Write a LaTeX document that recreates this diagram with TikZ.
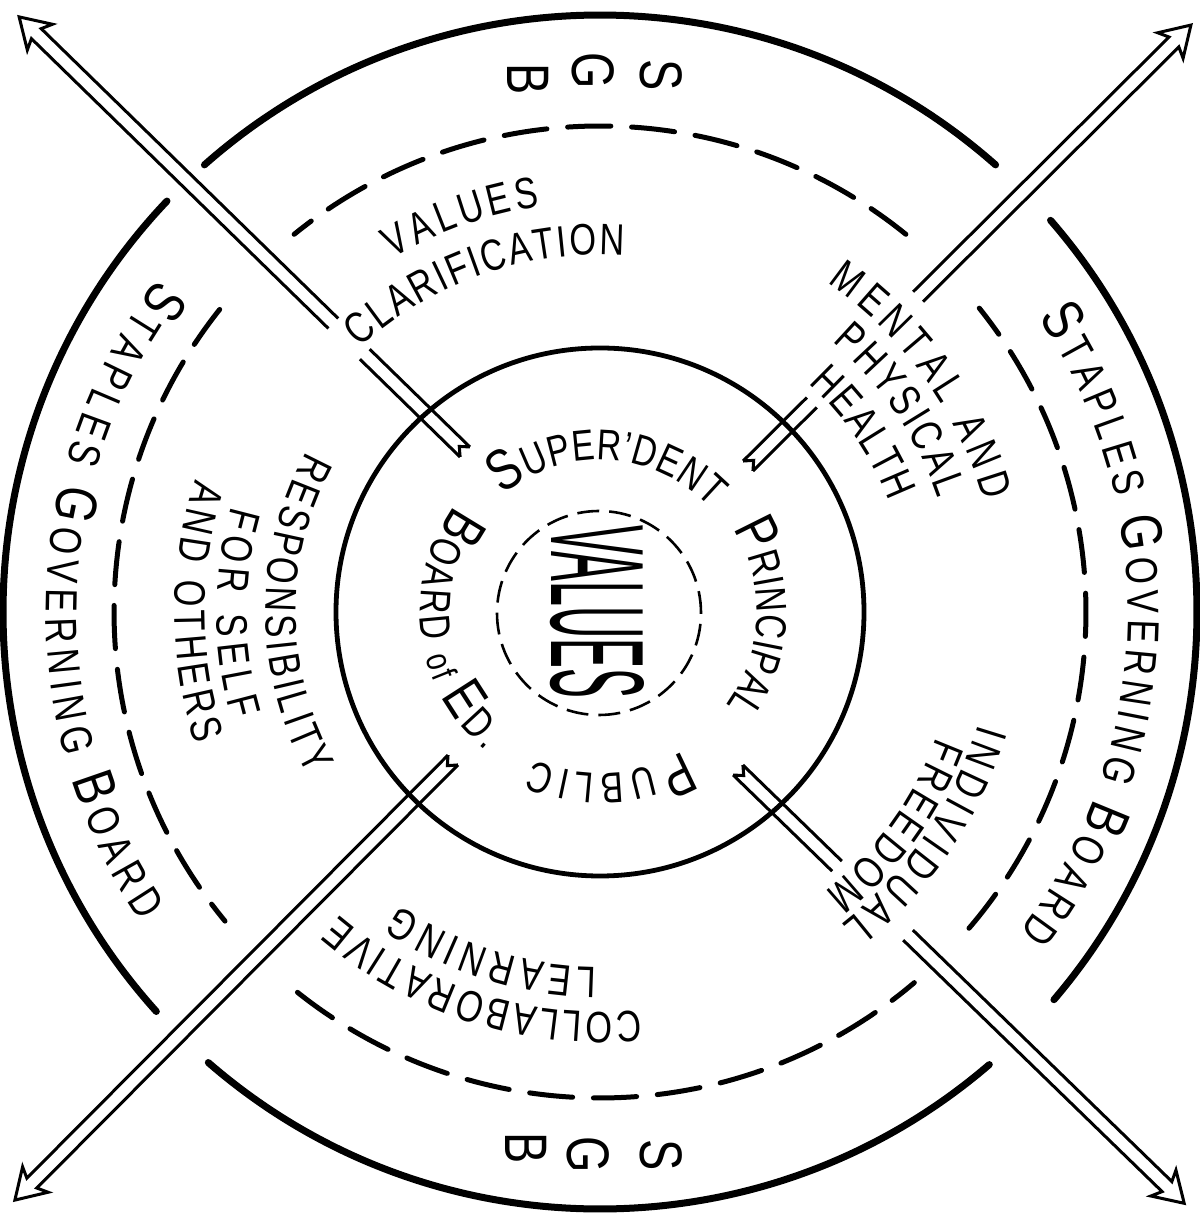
\documentclass[tikz,border=0pt]{standalone}
\usepackage{graphicx}
\usepackage{fontspec}
\setmainfont{Liberation Sans}[FakeStretch=0.78]
\newfontfamily\corefont{Liberation Sans}[FakeStretch=0.34]
\usetikzlibrary{decorations.text}

\newcommand{\ringbig}{\fontsize{14.6}{15}\selectfont}
\newcommand{\ringsmall}{\fontsize{11.2}{12}\selectfont}
\newcommand{\midsize}{\fontsize{11}{12}\selectfont}
\newcommand{\innerbig}{\fontsize{14.5}{15}\selectfont}
\newcommand{\innersmall}{\fontsize{10.8}{11}\selectfont}
\newcommand{\ofsize}{\fontsize{9}{10}\selectfont}

% hollow arrow: tail, angle, length, gap from, gap to
\newcommand{\hollowarrow}[5]{%
  \begin{scope}[shift={#1}, rotate=#2]
    \draw[shaft] (0,7) -- (#4,7) (0,-7) -- (#4,-7)
      (#5,7) -- (#3-24,7) -- (#3-29,18) -- (#3,0) -- (#3-29,-18) -- (#3-24,-7) -- (#5,-7)
      (0,7) -- (8,0) -- (0,-7);
  \end{scope}}

\begin{document}
\begin{tikzpicture}[x=0.25pt, y=0.25pt,
    outerring/.style={line width=1.75pt, line cap=round},
    midring/.style={line width=1.25pt, line cap=round, dash pattern=on 10.8pt off 5.2pt},
    innerring/.style={line width=1.2pt},
    corering/.style={line width=0.65pt, dash pattern=on 5.5pt off 2.5pt},
    shaft/.style={line width=0.75pt, line join=miter},
    ringtext/.style={decorate, decoration={text along path, text={#1}, text align={fit to path}}},
    letter/.style={font=\fontsize{15}{15}\selectfont, rotate=-90, inner sep=0pt},
  ]
  \useasboundingbox[fill=white] (-600,-617) rectangle (599,612);

  % rings
  \foreach \a/\b in {48.5/131.5, 136.5/222, 229/310.7, -40.5/41}
    \draw[outerring] (\a:597) arc[start angle=\a, end angle=\b, radius=597];
  \foreach \a/\b in {51/129, 141.5/219.5, 231.5/310.3, -40.6/38.7}
    \draw[midring] (\a:486) arc[start angle=\a, end angle=\b, radius=486];
  \draw[innerring] (0,0) circle[radius=264];
  \draw[corering] (-1,-1) circle[radius=102];

  % centre
  \node[rotate=-90, inner sep=0pt] (core) at (-3,0)
    {\resizebox{43.25pt}{23.25pt}{\corefont\fontsize{30}{30}\selectfont VALUES}};

  % S G B letters
  \node[letter] (topB) at (-72,533) {B};
  \node[letter] (topG) at (-7,541) {G};
  \node[letter] (topS) at (61,537) {S};
  \node[letter] (botB) at (-74,-536) {B};
  \node[letter] (botG) at (-12,-543) {G};
  \node[letter] (botS) at (61,-543) {S};

  % outer ring text
  \path[ringtext={|\ringbig|S|\ringsmall|TAPLES |\ringbig|G|\ringsmall|OVERNING |\ringbig|B|\ringsmall|OARD}]
    (143:554) arc[start angle=143, end angle=213.9, radius=554];
  \path[ringtext={|\ringbig|S|\ringsmall|TAPLES |\ringbig|G|\ringsmall|OVERNING |\ringbig|B|\ringsmall|OARD}]
    (33.9:528) arc[start angle=33.9, end angle=-37.3, radius=528];

  % middle ring text
  \path[ringtext={|\midsize|VALUES}] (120.4:410) arc[start angle=120.4, end angle=98.4, radius=410];
  \path[ringtext={|\midsize|CLARIFICATION}] (132.3:357) arc[start angle=132.3, end angle=86.1, radius=357];
  \path[ringtext={|\midsize|MENTAL AND}] (55.3:400) arc[start angle=55.3, end angle=16.1, radius=400];
  \path[ringtext={|\midsize|PHYSICAL}] (49.3:356.5) arc[start angle=49.3, end angle=18.6, radius=356.5];
  \path[ringtext={|\midsize|HEALTH}] (47.6:309.5) arc[start angle=47.6, end angle=21, radius=309.5];
  \path[ringtext={|\midsize|RESPONSIBILITY}] (151.4:334.5) arc[start angle=151.4, end angle=209.3, radius=334.5];
  \path[ringtext={|\midsize|FOR SELF}] (164:383.5) arc[start angle=164, end angle=196.3, radius=383.5];
  \path[ringtext={|\midsize|AND OTHERS}] (161.9:425.5) arc[start angle=161.9, end angle=198.1, radius=425.5];
  \path[ringtext={|\midsize|INDIVIDUAL}] (-16.5:394.5) arc[start angle=-16.5, end angle=-52.3, radius=394.5];
  \path[ringtext={|\midsize|FREEDOM}] (-20.5:359.5) arc[start angle=-20.5, end angle=-51.3, radius=359.5];
  \path[ringtext={|\midsize|COLLABORATIVE}] (-84.2:400) arc[start angle=-84.2, end angle=-130.7, radius=400];
  \path[ringtext={|\midsize|LEARNING}] (-90.5:355) arc[start angle=-90.5, end angle=-124.4, radius=355];

  % inner circle text
  \path[ringtext={|\innerbig|S|\innersmall|UPER'DENT}] (129.5:152) arc[start angle=129.5, end angle=43.5, radius=152];
  \path[ringtext={|\innerbig|P|\innersmall|RINCIPAL}] (32:157) arc[start angle=32, end angle=-36.5, radius=157];
  \path[ringtext={|\innerbig|P|\innersmall|UBLIC}] (-59.1:161.5) arc[start angle=-59.1, end angle=-114.1, radius=161.5];
  \path[ringtext={|\innerbig|B|\innersmall|OARD |\ofsize|of |\innerbig|E|\innersmall|D.}]
    (143.9:180) arc[start angle=143.9, end angle=230.6, radius=180];

  % arrows
  \coordinate (nwtail) at (-135,160);
  \coordinate (netail) at (148,146);
  \coordinate (swtail) at (-147,-148);
  \coordinate (setail) at (138,-158);
  \hollowarrow{(nwtail)}{135.7}{623}{140}{184}
  \hollowarrow{(netail)}{44.87}{625}{90}{240}
  \hollowarrow{(swtail)}{225.13}{621}{300}{300}
  \hollowarrow{(setail)}{-44.16}{622}{138}{237}
\end{tikzpicture}
\end{document}
